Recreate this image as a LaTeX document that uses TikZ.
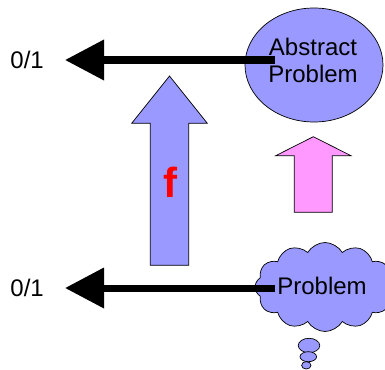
\documentclass[tikz,border=0pt]{standalone}
\usepackage{fontspec}
\setmainfont{Liberation Sans}
\usetikzlibrary{arrows.meta,shapes.symbols,shapes.geometric}
\definecolor{lblue}{RGB}{153,153,255}
\definecolor{lpink}{RGB}{255,153,255}
\tikzset{
  blk/.style={line width=7pt,-{Triangle[length=39pt,width=39pt]},shorten >=21pt},
  shapeline/.style={draw=black,line width=0.7pt},
  lbl/.style={font=\fontsize{24}{27}\selectfont,inner sep=0pt,align=center},
}
\begin{document}
\begin{tikzpicture}[x=1pt,y=-1pt]
\useasboundingbox (0,0) rectangle (385,369);
% ellipse
\node[shapeline,fill=lblue,ellipse,minimum width=138pt,minimum height=114pt,inner sep=0pt] (ell) at (314,65) {};
% cloud
\node[shapeline,fill=lblue,cloud,cloud puffs=12,cloud puff arc=120,cloud ignores aspect,minimum width=140pt,minimum height=89pt,inner sep=0pt] (cl) at (325,287) {};
\draw[shapeline,fill=lblue] (309,345.5) ellipse [x radius=10.8,y radius=7.2];
\draw[shapeline,fill=lblue] (308.3,356.7) ellipse [x radius=8.3,y radius=5];
\draw[shapeline,fill=lblue] (306.3,365.3) ellipse [x radius=4.7,y radius=3.7];
% block arrows
\draw[shapeline,fill=lblue] (169.5,76) -- (207.3,123.3) -- (188.7,123.3) -- (188.7,265.3) -- (150.3,265.3) -- (150.3,123.3) -- (131.7,123.3) -- cycle;
\draw[shapeline,fill=lpink] (313.3,136.7) -- (351,155.7) -- (332.3,155.7) -- (332.3,212.3) -- (294.3,212.3) -- (294.3,155.7) -- (275.7,155.7) -- cycle;
\node[font=\fontsize{42}{42}\selectfont\bfseries,text=red,inner sep=0pt] (f) at (170,182) {f};
% texts
\node[lbl] (abs) at (313,60) {Abstract\\Problem};
\node[lbl] (prob) at (322,286) {Problem};
\node[lbl,anchor=east] (z1) at (44,60) {0/1};
\node[lbl,anchor=east] (z2) at (44,288) {0/1};
% connectors
\coordinate (s1) at (275,60);
\coordinate (s2) at (275,288);
\draw[blk] (s1) -- (z1.east);
\draw[blk] (s2) -- (z2.east);
\end{tikzpicture}
\end{document}
